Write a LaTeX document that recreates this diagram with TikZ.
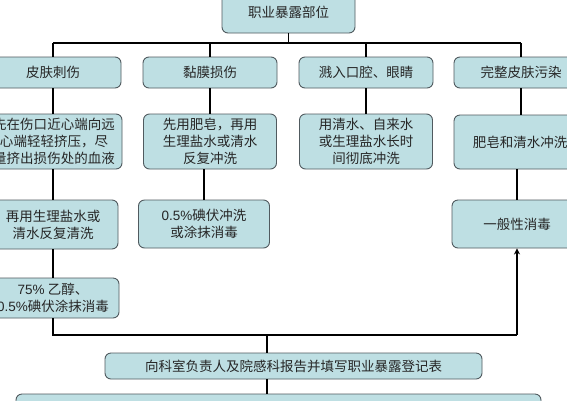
\documentclass[tikz,border=0pt]{standalone}
\usepackage{fontspec}
\newfontfamily\cjk{Noto Sans CJK SC}
\newfontfamily\lat{Liberation Sans}
\usetikzlibrary{arrows.meta}
\definecolor{boxfill}{RGB}{190,223,227}
\definecolor{boxline}{RGB}{80,90,95}
\begin{document}
\begin{tikzpicture}[x=1pt,y=-1pt,
  box/.style={draw=boxline, fill=boxfill, rounded corners=6pt, line width=0.9pt,
    align=center, inner sep=0pt, font=\cjk\fontsize{13.5}{17}\selectfont, text=black!85},
  conn/.style={line width=1.8pt, black}]
\useasboundingbox (0,0) rectangle (567,400);
\clip (0,0) rectangle (567,400);
\fill[white] (0,0) rectangle (567,400);
% top
\node[box, minimum width=133pt, minimum height=42pt] (top) at (288.5,12) {职业暴露部位};
% row 1
\node[box, minimum width=136pt, minimum height=31pt] (a1) at (53,72.5) {皮肤刺伤};
\node[box, minimum width=134pt, minimum height=31pt] (b1) at (210,72.5) {黏膜损伤};
\node[box, minimum width=134pt, minimum height=31pt] (c1) at (366,72.5) {溅入口腔、眼睛};
\node[box, minimum width=134pt, minimum height=31pt] (d1) at (521,72.5) {完整皮肤污染};
% row 2
\node[box, minimum width=136pt, minimum height=55pt] (a2) at (54,141.5) {先在伤口近心端向远\\心端轻轻挤压，尽\\量挤出损伤处的血液};
\node[box, minimum width=133pt, minimum height=55pt] (b2) at (210,141.5) {先用肥皂，再用\\生理盐水或清水\\反复冲洗};
\node[box, minimum width=133pt, minimum height=55pt] (c2) at (366,141.5) {用清水、自来水\\或生理盐水长时\\间彻底冲洗};
\node[box, minimum width=132pt, minimum height=54pt] (d2) at (520,142) {肥皂和清水冲洗};
% row 3
\node[box, minimum width=130pt, minimum height=49pt] (a3) at (53,224.5) {再用生理盐水或\\清水反复清洗};
\node[box, minimum width=131pt, minimum height=48pt] (b3) at (204,224) {{\lat 0.5\%}碘伏冲洗\\或涂抹消毒};
\node[box, minimum width=130pt, minimum height=48pt] (d3) at (517,224) {一般性消毒};
% row 4
\node[box, minimum width=132pt, minimum height=40pt] (a4) at (53,298) {{\lat 75\%} 乙醇、\\{\lat 0.5\%}碘伏涂抹消毒};
% report
\node[box, minimum width=377pt, minimum height=26pt] (rep) at (293.5,366) {向科室负责人及院感科报告并填写职业暴露登记表};
\node[box, minimum width=525pt, minimum height=36pt] (bot) at (278.5,412) {};
% top bus
\coordinate (busL) at (53,43);
\coordinate (busR) at (521,43);
\draw[conn] (top.south) -- (top.south |- busL);
\draw[conn] (busL) -- (busR);
\draw[conn] (busL) -- (a1.north);
\draw[conn] (b1.north |- busL) -- (b1.north);
\draw[conn] (c1.north |- busL) -- (c1.north);
\draw[conn] (busR) -- (d1.north);
% columns
\draw[conn] (a1.south) -- (a1.south |- a2.north);
\draw[conn] (a2.south -| a1.south) -- (a1.south |- a3.north);
\draw[conn] (a3.south -| a1.south) -- (a1.south |- a4.north);
\draw[conn] (b1.south) -- (b1.south |- b2.north);
\draw[conn] (b3.north |- b2.south) -- (b3.north);
\draw[conn] (c1.south) -- (c1.south |- c2.north);
\draw[conn] (d1.south) -- (d1.south |- d2.north);
\draw[conn] (d3.north |- d2.south) -- (d3.north);
% lower bus
\coordinate (bus2R) at (517,335);
\coordinate (j) at (267,335);
\draw[conn] (a4.south) |- (bus2R);
\draw[conn, -{Stealth[length=6pt,width=6pt]}] (bus2R) -- (d3.south);
\draw[conn] (j) -- (j |- rep.north);
\draw[conn] (j |- rep.south) -- (j |- bot.north);
\end{tikzpicture}
\end{document}
